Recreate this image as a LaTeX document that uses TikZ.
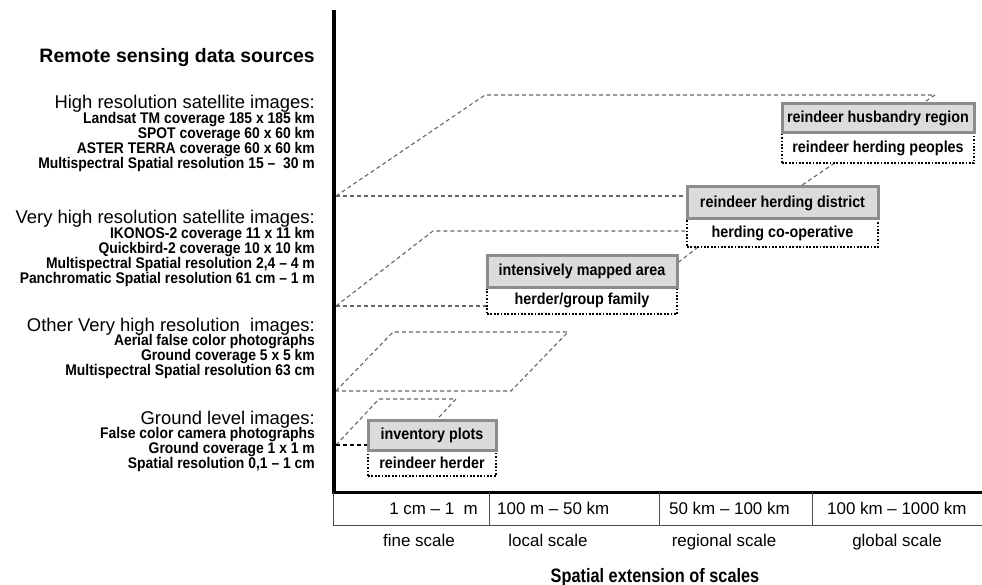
\documentclass[tikz,border=0pt]{standalone}
\usepackage{fontspec}
\setmainfont{Liberation Sans}
\newfontfamily\narrowsans[FakeStretch=0.9]{Liberation Sans}
\newfontfamily\narrowersans[FakeStretch=0.84]{Liberation Sans}
\usetikzlibrary{calc}
\definecolor{boxfill}{gray}{0.86}
\definecolor{boxedge}{gray}{0.55}
\definecolor{dashgray}{gray}{0.4}
\definecolor{rulegray}{gray}{0.3}
\pgfdeclarelayer{background}
\pgfsetlayers{background,main}
\tikzset{
  srcitem/.style={anchor=base east, inner sep=0pt, font=\narrowsans\bfseries\fontsize{15.5}{17}\selectfont},
  srchead/.style={anchor=base east, inner sep=0pt, font=\fontsize{18.5}{20}\selectfont},
  bigtitle/.style={inner sep=0pt, font=\fontsize{19.5}{22}\selectfont\bfseries},
  unitbox/.style={draw=boxedge, line width=3bp, fill=boxfill, inner sep=0pt,
    font=\narrowsans\bfseries\fontsize{16}{18}\selectfont},
  userbox/.style={draw=black, line width=1.7bp, dash pattern=on 1.7bp off 1.7bp,
    inner sep=0pt, font=\narrowsans\bfseries\fontsize{16}{18}\selectfont},
  extent/.style={draw=dashgray, line width=1.1bp, dash pattern=on 4bp off 3bp},
  extentdark/.style={extent, draw=black},
  axisline/.style={draw=black, line width=3.5bp},
  cellrule/.style={draw=rulegray, line width=1bp},
  celltext/.style={anchor=base, inner sep=0pt, font=\fontsize{17}{19}\selectfont},
}
\begin{document}
\begin{tikzpicture}[x=1bp,y=-1bp]
\useasboundingbox (0,0) rectangle (982,585);
\begin{pgfonlayer}{background}
  \fill[white] (0,0) rectangle (982,585);
\end{pgfonlayer}

% ---- data sources, right-aligned column ----
\node[bigtitle, anchor=base east] (srctitle) at (315,63) {Remote sensing data sources};

\node[srchead] (g1) at (315,109) {High resolution satellite images:};
\node[srcitem] (g1a) at (315,123.5) {Landsat TM coverage 185 x 185 km};
\node[srcitem] (g1b) at (315,138.5) {SPOT coverage 60 x 60 km};
\node[srcitem] (g1c) at (315,153.5) {ASTER TERRA coverage 60 x 60 km};
\node[srcitem] (g1d) at (315,168.5) {Multispectral Spatial resolution 15 –\ \ 30 m};

\node[srchead] (g2) at (315,224) {Very high resolution satellite images:};
\node[srcitem] (g2a) at (315,238.5) {IKONOS-2 coverage 11 x 11 km};
\node[srcitem] (g2b) at (315,253.5) {Quickbird-2 coverage 10 x 10 km};
\node[srcitem] (g2c) at (315,268.5) {Multispectral Spatial resolution 2,4 – 4 m};
\node[srcitem] (g2d) at (315,283.5) {Panchromatic Spatial resolution 61 cm – 1 m};

\node[srchead] (g3) at (315,331) {Other Very high resolution\ \ images:};
\node[srcitem] (g3a) at (315,345.5) {Aerial false color photographs};
\node[srcitem] (g3b) at (315,360.5) {Ground coverage 5 x 5 km};
\node[srcitem] (g3c) at (315,375.5) {Multispectral Spatial resolution 63 cm};

\node[srchead] (g4) at (315,424) {Ground level images:};
\node[srcitem] (g4a) at (315,438.5) {False color camera photographs};
\node[srcitem] (g4b) at (315,453.5) {Ground coverage 1 x 1 m};
\node[srcitem] (g4c) at (315,468.5) {Spatial resolution 0,1 – 1 cm};

% ---- axes ----
\coordinate (ytop) at (334,10);
\coordinate (origin) at (334,492);
\coordinate (xend) at (982,492);
\draw[axisline] (ytop) -- ($(origin)+(0,1.5)$);
\draw[axisline, line width=3bp] ($(origin)+(-1.75,0)$) -- (xend);

% ---- scale table ----
\coordinate (tbl) at (333,525);
\coordinate (tbr) at (982,525);
\coordinate (s1) at (489,492);
\coordinate (s2) at (659,492);
\coordinate (s3) at (812,492);
\draw[cellrule] ($(origin)+(-1,0)$) -- (tbl) -- (tbr);
\foreach \s in {s1,s2,s3} \draw[cellrule] (\s) -- (\s |- tbl);

\node[celltext, anchor=base east] (r1) at (478,514.5) {1 cm – 1\ \ m};
\node[celltext, anchor=base west] (r2) at (497,514.5) {100 m – 50 km};
\node[celltext, anchor=base west] (r3) at (669,514.5) {50 km – 100 km};
\node[celltext, anchor=base west] (r4) at (827,514.5) {100 km – 1000 km};

\node[celltext] (c1) at (419,546) {fine scale};
\node[celltext] (c2) at (548,546) {local scale};
\node[celltext] (c3) at (724,546) {regional scale};
\node[celltext] (c4) at (897,546) {global scale};

\node[inner sep=0pt, anchor=base, font=\narrowersans\bfseries\fontsize{19.5}{21}\selectfont]
  (xtitle) at (655,582) {Spatial extension of scales};

% ---- spatial units and their users ----
\node[userbox, minimum width=192bp, minimum height=30bp] (hup) at (878,148) {reindeer herding peoples};
\node[unitbox, minimum width=192bp, minimum height=29bp] (hu) at (878,118.5) {reindeer husbandry region};

\node[userbox, minimum width=191bp, minimum height=28bp] (dip) at (782.5,233) {herding co-operative};
\node[unitbox, minimum width=191bp, minimum height=32bp] (di) at (782.5,203) {reindeer herding district};

\node[userbox, minimum width=190bp, minimum height=27bp] (imp) at (582,300.5) {herder/group family};
\node[unitbox, minimum width=190bp, minimum height=31bp] (im) at (582,271.5) {intensively mapped area};

\node[userbox, minimum width=128bp, minimum height=26bp] (inp) at (432,463) {reindeer herder};
\node[unitbox, minimum width=128bp, minimum height=30bp] (inv) at (432,435) {inventory plots};

% ---- coverage footprints ----
\coordinate (p1a) at (336,196);
\coordinate (p1b) at (485,95);
\coordinate (p1c) at (935,95);
\coordinate (p1d) at (921.7,104);
\coordinate (p1e) at (834.7,163);
\coordinate (p1f) at (799.3,187);

\coordinate (p2a) at (336,306);
\coordinate (p2b) at (433,231);
\coordinate (p2c) at (698,247);
\coordinate (p2d) at (677,263.4);

\coordinate (p3a) at (336,391);
\coordinate (p3b) at (393,332);
\coordinate (p3c) at (568,332);
\coordinate (p3d) at (511,391);

\coordinate (p4a) at (336,445);
\coordinate (p4b) at (379,399);
\coordinate (p4c) at (456,399);
\coordinate (p4d) at (436.4,420);

\begin{pgfonlayer}{background}
  \draw[extent] (p1a) -- (p1b) -- (p1c) -- (p1d);
  \draw[extent] (p1a) -- (di.west |- p1a);
  \draw[extent] (p1e) -- (p1f);

  \draw[extent] (p2a) -- (p2b) -- (dip.west |- p2b);
  \draw[extent] (p2a) -- (imp.west |- p2a);
  \draw[extent] (p2c) -- (p2d);

  \draw[extent] (p3a) -- (p3b) -- (p3c) -- (p3d) -- cycle;

  \draw[extent] (p4a) -- (p4b) -- (p4c) -- (p4d);
  \draw[extentdark] (p4a) -- (inv.west |- p4a);
\end{pgfonlayer}
\end{tikzpicture}
\end{document}
